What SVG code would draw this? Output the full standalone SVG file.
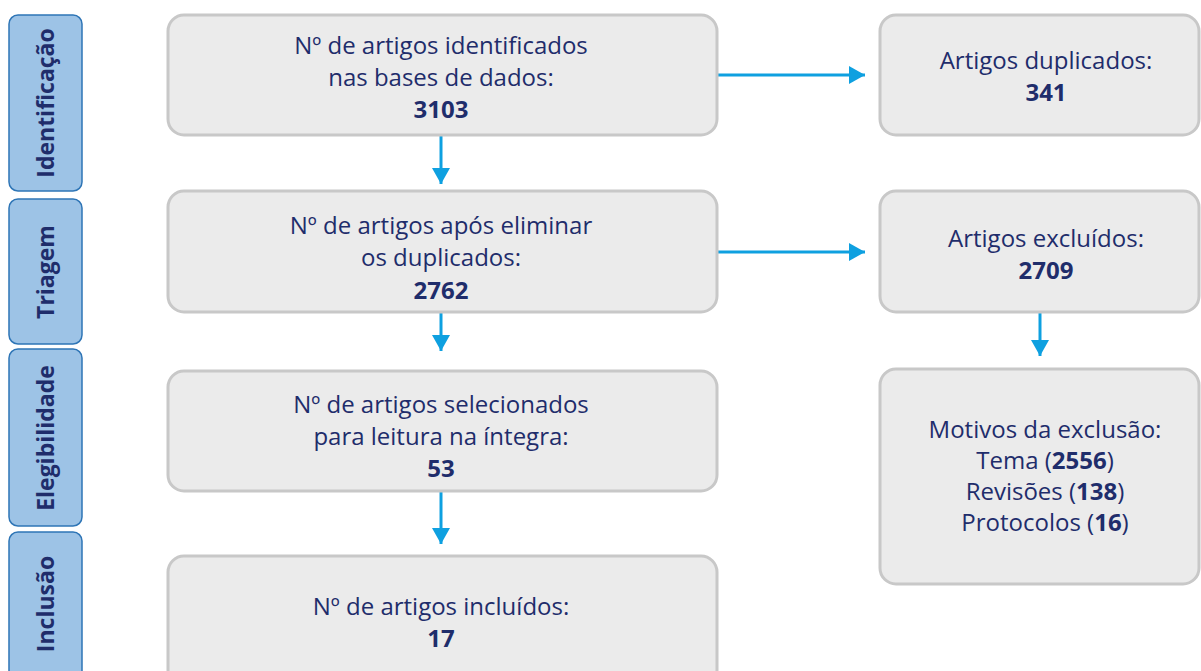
<svg xmlns="http://www.w3.org/2000/svg" width="1201" height="671" viewBox="0 0 1201 671">
<style>
.stage{fill:#9dc3e6;stroke:#2e75b6;stroke-width:1.5}
.stl{font-family:"Open Sans","Liberation Sans",sans-serif;font-weight:bold;font-size:23px;fill:#1f2d6b;text-anchor:middle}
.box{fill:#ebebeb;stroke:#c8c8c8;stroke-width:3}
.t{font-family:"Open Sans","Liberation Sans",sans-serif;font-size:24px;fill:#1f2d6b;text-anchor:middle}
.b{font-weight:bold}
.conn{stroke:#0ea0e0;stroke-width:3;fill:none}
</style>
<defs>
<marker id="ah" markerWidth="16" markerHeight="18" refX="16" refY="9" orient="auto" markerUnits="userSpaceOnUse">
<path d="M0,0 L16,9 L0,18 Z" fill="#0ea0e0"/>
</marker>
</defs>
<rect width="1201" height="671" fill="#ffffff"/>
<g id="stage-identificacao"><rect class="stage" x="9" y="15" width="73" height="176" rx="9"/><text class="stl" transform="translate(54,103) rotate(-90)">Identificação</text></g>
<g id="stage-triagem"><rect class="stage" x="9" y="199" width="73" height="145" rx="9"/><text class="stl" transform="translate(54,272) rotate(-90)">Triagem</text></g>
<g id="stage-elegibilidade"><rect class="stage" x="9" y="349" width="73" height="177" rx="9"/><text class="stl" transform="translate(54,438) rotate(-90)">Elegibilidade</text></g>
<g id="stage-inclusao"><rect class="stage" x="9" y="532" width="73" height="160" rx="9"/><text class="stl" transform="translate(54,604) rotate(-90)">Inclusão</text></g>

<g id="connectors">
<line class="conn" x1="441" y1="136" x2="441" y2="184" marker-end="url(#ah)"/>
<line class="conn" x1="441" y1="313" x2="441" y2="351" marker-end="url(#ah)"/>
<line class="conn" x1="441" y1="492" x2="441" y2="544" marker-end="url(#ah)"/>
<line class="conn" x1="718" y1="75" x2="865" y2="75" marker-end="url(#ah)"/>
<line class="conn" x1="718" y1="252" x2="865" y2="252" marker-end="url(#ah)"/>
<line class="conn" x1="1040" y1="313" x2="1040" y2="356" marker-end="url(#ah)"/>
</g>

<g id="n1"><rect class="box" x="168" y="15" width="549" height="120" rx="16"/>
<text class="t" x="441" y="54">Nº de artigos identificados</text>
<text class="t" x="441" y="86">nas bases de dados:</text>
<text class="t b" x="441" y="118">3103</text></g>
<g id="n2"><rect class="box" x="168" y="191" width="549" height="121" rx="16"/>
<text class="t" x="441" y="234">Nº de artigos após eliminar</text>
<text class="t" x="441" y="266">os duplicados:</text>
<text class="t b" x="441" y="299">2762</text></g>
<g id="n3"><rect class="box" x="168" y="371" width="549" height="120" rx="16"/>
<text class="t" x="441" y="413">Nº de artigos selecionados</text>
<text class="t" x="441" y="445">para leitura na íntegra:</text>
<text class="t b" x="441" y="477">53</text></g>
<g id="n4"><rect class="box" x="168" y="556" width="549" height="130" rx="16"/>
<text class="t" x="441" y="615">Nº de artigos incluídos:</text>
<text class="t b" x="441" y="647">17</text></g>
<g id="r1"><rect class="box" x="880" y="15" width="319" height="120" rx="16"/>
<text class="t" x="1046" y="69">Artigos duplicados:</text>
<text class="t b" x="1046" y="101">341</text></g>
<g id="r2"><rect class="box" x="880" y="191" width="319" height="121" rx="16"/>
<text class="t" x="1046" y="247">Artigos excluídos:</text>
<text class="t b" x="1046" y="279">2709</text></g>
<g id="r3"><rect class="box" x="880" y="369" width="319" height="215" rx="16"/>
<text class="t" x="1045" y="438">Motivos da exclusão:</text>
<text class="t" x="1045" y="469">Tema (<tspan class="b">2556</tspan>)</text>
<text class="t" x="1045" y="500">Revisões (<tspan class="b">138</tspan>)</text>
<text class="t" x="1045" y="531">Protocolos (<tspan class="b">16</tspan>)</text></g>
</svg>
